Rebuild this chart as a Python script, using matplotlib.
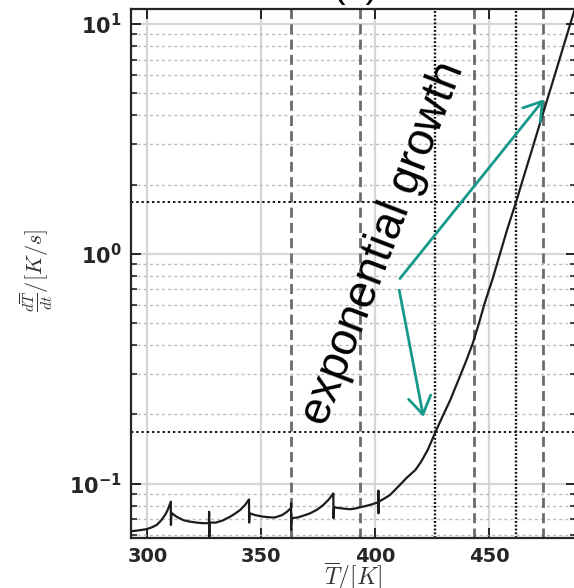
import matplotlib
matplotlib.use("Agg")
import matplotlib.pyplot as plt
from matplotlib.ticker import FixedLocator, FixedFormatter, LogLocator, NullFormatter

# ---------------- data ----------------
T_curve = [293.0, 296.0, 299.7, 302.0, 304.1, 306.0, 307.8, 309.0, 310.3, 310.35, 310.6,
           313.0, 315.8, 318.5, 321.7, 324.5, 327.0, 327.1, 327.2, 327.3,
           330.0, 333.0, 336.3, 338.5, 340.7, 342.8, 344.6, 344.65, 344.9,
           347.5, 350.9, 354.5, 356.0, 359.0, 361.0, 362.9, 363.0, 363.05, 363.1, 363.2,
           366.0, 368.5, 371.4, 374.5, 377.2, 379.5, 381.6, 381.65, 381.9,
           385.0, 388.9, 391.0, 393.3, 395.5, 397.7, 399.8, 401.3, 401.35, 401.4, 401.5,
           403.5, 406.4, 408.5, 410.5, 413.8, 417.6, 420.0, 423.0, 426.2, 429.5,
           432.8, 436.0, 439.5, 442.7, 445.5, 448.1, 451.5, 454.7, 458.0, 461.7,
           465.0, 468.5, 471.0, 473.7, 477.0, 480.5, 484.0, 486.9, 487.9]
dTdt_curve = [0.0620, 0.0625, 0.0633, 0.0645, 0.0660, 0.0690, 0.0730, 0.0770, 0.0834, 0.0660, 0.0745,
              0.0715, 0.0693, 0.0683, 0.0676, 0.0672, 0.0672, 0.0754, 0.0587, 0.0676,
              0.0676, 0.0690, 0.0717, 0.0740, 0.0767, 0.0805, 0.0853, 0.0676, 0.0742,
              0.0728, 0.0717, 0.0712, 0.0712, 0.0728, 0.0750, 0.0780, 0.0785, 0.0820, 0.0628, 0.0706,
              0.0712, 0.0725, 0.0742, 0.0770, 0.0807, 0.0850, 0.0906, 0.0706, 0.0788,
              0.0780, 0.0773, 0.0778, 0.0788, 0.0797, 0.0807, 0.0820, 0.0828, 0.0931, 0.0742, 0.0834,
              0.0855, 0.0891, 0.0935, 0.0980, 0.1060, 0.1146, 0.1240, 0.1400, 0.1660, 0.1960,
              0.2300, 0.2750, 0.3350, 0.4060, 0.5000, 0.6150, 0.7800, 1.000, 1.290, 1.675,
              2.150, 2.790, 3.370, 4.120, 5.270, 6.860, 8.920, 11.10, 11.90]

dashed_T = [363.0, 393.3, 443.4, 473.4]
dotted_T = [426.0, 461.7]
dotted_rates = [0.1675, 1.675]

x_ticks = [300, 350, 400, 450]
x_ticklabels = ["300", "350", "400", "450"]
y_ticks = [0.1, 1.0, 10.0]
y_ticklabels = [r"$\mathbf{10^{-1}}$", r"$\mathbf{10^{0}}$", r"$\mathbf{10^{1}}$"]

annot_text = "exponential growth"
arrow_start = [(410.8, 0.78), (410.5, 0.694)]
arrow_tip = [(474.0, 4.70), (421.1, 0.195)]

# ---------------- figure ----------------
plt.rcParams['mathtext.fontset'] = 'cm'
fig = plt.figure(figsize=(5.74, 5.88), dpi=100)
W, H = 574.0, 588.0
left_px, right_px, top_px, bot_px = 131.0, 575.7, 9.0, 537.5
ax = fig.add_axes([left_px / W, 1 - bot_px / H, (right_px - left_px) / W, (bot_px - top_px) / H])

ax.set_yscale('log')
ax.set_xlim(292.84, 487.9)
ax.set_ylim(0.05823, 11.62)

# grid
ax.set_axisbelow(True)
ax.grid(which='major', axis='both', color='#d6d6d6', lw=1.6, ls='-')
ax.grid(which='minor', axis='y', color='#bdbdbd', lw=1.0, ls=(0, (2.2, 2.2)))

# reference lines
for t in dashed_T:
    ax.axvline(t, color='#6b6b6b', lw=2.0, ls=(0, (3.6, 1.9)), zorder=2)
for t in dotted_T:
    ax.axvline(t, color='#111111', lw=1.7, ls=(0, (0.8, 0.8)), zorder=2)
for r in dotted_rates:
    ax.axhline(r, color='#111111', lw=1.4, ls=(0, (1.2, 1.5)), zorder=2)

# main curve
ax.plot(T_curve, dTdt_curve, color='#1c1c1c', lw=1.6, zorder=4)

# ticks
ax.xaxis.set_major_locator(FixedLocator(x_ticks))
ax.xaxis.set_major_formatter(FixedFormatter(x_ticklabels))
ax.yaxis.set_major_locator(FixedLocator(y_ticks))
ax.yaxis.set_major_formatter(FixedFormatter(y_ticklabels))
ax.yaxis.set_minor_locator(LogLocator(base=10, subs=[2, 3, 4, 5, 6, 7, 8, 9]))
ax.yaxis.set_minor_formatter(NullFormatter())
ax.tick_params(which='both', direction='in', top=True, right=True, color='#262626')
ax.tick_params(which='major', length=7, width=1.4)
ax.tick_params(which='minor', length=4, width=1.2)
ax.tick_params(axis='x', which='major', pad=7)
ax.tick_params(axis='y', which='major', pad=7)
for lab in ax.get_xticklabels():
    lab.set_fontfamily(['DejaVu Sans'])
    lab.set_fontweight('bold')
    lab.set_fontsize(14)
    lab.set_color('#262626')
for lab in ax.get_yticklabels():
    lab.set_math_fontfamily('dejavusans')
    lab.set_fontsize(15)
    lab.set_color('#262626')

for s in ax.spines.values():
    s.set_color('#262626')
    s.set_linewidth(1.6)

# labels
ax.set_xlabel(r'$\overline{T}/[K]$', fontsize=17, color='#333333', va='center')
ax.xaxis.set_label_coords(0.499, -0.073)
ax.set_ylabel(r'$\frac{d\overline{T}}{dt}/[K/s]$', fontsize=16, color='#333333', va='center')
ax.yaxis.set_label_coords(-0.211, 0.506)

# annotation
teal = '#16998a'
ax.text(403.4, 1.11, annot_text, rotation=69, rotation_mode='anchor', ha='center', va='center',
        fontsize=33, family=['Liberation Sans', 'DejaVu Sans'], color='black', zorder=5)
for (sx, sy), (tx, ty) in zip(arrow_start, arrow_tip):
    ax.annotate('', xy=(tx, ty), xytext=(sx, sy),
                arrowprops=dict(arrowstyle='->, head_length=0.7, head_width=0.45', color=teal,
                                lw=2.0, shrinkA=0, shrinkB=0, mutation_scale=18), zorder=6)

# cut-off panel title at the very top
fig.text(356 / W, 1.0 + 3.0 / H, '(a)', ha='center', va='baseline', fontsize=27,
         family=['Liberation Sans', 'DejaVu Sans'], color='black')

fig.savefig('out.png', dpi=100)
